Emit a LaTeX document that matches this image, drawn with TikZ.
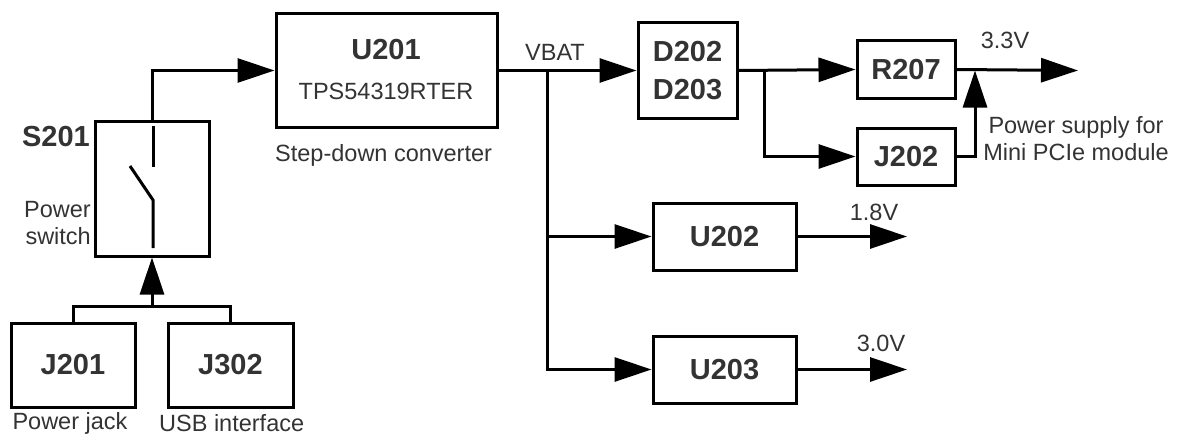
\documentclass[tikz,border=0pt]{standalone}
\usepackage{fontspec}
\setmainfont{Liberation Sans}
\usetikzlibrary{arrows.meta}
\definecolor{txt}{HTML}{333333}
\begin{document}
\begin{tikzpicture}[x=1pt,y=-1pt,
  box/.style={draw=black, line width=3pt, inner sep=0pt, rectangle, text=txt, font=\fontsize{29}{32}\selectfont\bfseries},
  wire/.style={line width=3pt},
  arr/.style={wire, -{Triangle[length=37pt,width=24pt]}},
  big/.style={font=\fontsize{29}{32}\selectfont\bfseries, text=txt, inner sep=0pt},
  lbl/.style={font=\fontsize{23.5}{27}\selectfont, text=txt, inner sep=0pt}]
\useasboundingbox (0,0) rectangle (1180,436);

% boxes
\node[box, minimum width=114pt, minimum height=135pt] (S201) at (152,188.5) {};
\node[box, minimum width=221pt, minimum height=113pt] (U201) at (386.5,70.5) {};
\node[big] (U201t) at (386,50) {U201};
\node[lbl] (U201p) at (386,91) {TPS54319RTER};
\node[lbl, anchor=west] (U201s) at (275,155) {Step-down converter};
\node[box, minimum width=99pt, minimum height=95pt, align=center, font=\fontsize{29}{38}\selectfont\bfseries] (D) at (687.5,70.5) {D202\\D203};
\node[box, minimum width=98pt, minimum height=57pt] (R207) at (906,69.5) {R207};
\node[box, minimum width=98pt, minimum height=57pt] (J202) at (906,156.5) {J202};
\node[box, minimum width=143pt, minimum height=67pt] (U202) at (724.5,236.5) {U202};
\node[box, minimum width=143pt, minimum height=67pt] (U203) at (724.5,369.5) {U203};
\node[box, minimum width=124pt, minimum height=84pt] (J201) at (73,365) {J201};
\node[box, minimum width=125pt, minimum height=84pt] (J302) at (230.5,365) {J302};

% switch symbol
\draw[wire] (153,126) -- (153,167);
\draw[wire] (130,166) -- (153,200) -- (153,248);

% labels
\node[big, anchor=east] (S201l) at (90,137) {S201};
\node[lbl, anchor=east, align=right] (pswl) at (91,223.5) {Power\\switch};
\node[lbl] (pjack) at (70,423) {Power jack};
\node[lbl, anchor=west] (usb) at (159,423) {USB interface};
\node[lbl] (vbat) at (555,52) {VBAT};
\node[lbl] (v33) at (1005,40) {3.3V};
\node[lbl] (v18) at (874,212) {1.8V};
\node[lbl] (v30) at (881,343) {3.0V};
\node[lbl, align=center] (mini) at (1076,138.5) {Power supply for\\Mini PCIe module};

% connectors
\coordinate (jbus) at (152,306);
\draw[wire] (J201.north) |- (jbus) -| (J302.north);
\draw[arr] (jbus) -- (S201.south);
\draw[arr] (S201.north) |- (U201.west);
\draw[arr] (U201.east) -- (D.west);
\coordinate (bus) at (547,70.5);
\draw[arr] (bus) |- (U203.west);
\draw[arr] (bus |- U202.west) -- (U202.west);
\coordinate (dsplit) at (764,70.5);
\draw[arr] (D.east) -- (R207.west);
\draw[arr] (dsplit) |- (J202.west);
\coordinate (out33) at (1078,70.5);
\draw[arr] (R207.east) -- (out33);
\coordinate (jup) at (975,70.5);
\draw[arr] (J202.east) -| (jup);
\coordinate (o18) at (907,236.5);
\draw[arr] (U202.east) -- (o18);
\coordinate (o30) at (907,369.5);
\draw[arr] (U203.east) -- (o30);
\end{tikzpicture}
\end{document}
